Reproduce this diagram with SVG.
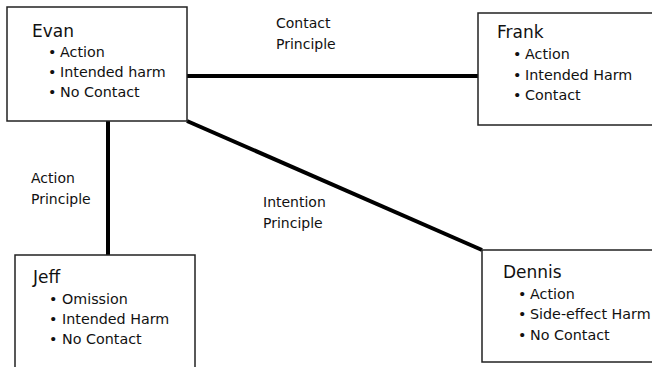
<svg xmlns="http://www.w3.org/2000/svg" width="652" height="367" viewBox="0 0 652 367">
<style>
.box{fill:#fff;stroke:#222;stroke-width:1.5}
.t{font-family:"DejaVu Sans","Liberation Sans",sans-serif;fill:#111}
.title{font-size:17px}
.item{font-size:14.3px}
.lbl{font-family:"DejaVu Sans","Liberation Sans",sans-serif;font-size:14px;fill:#111}
.edge{stroke:#000;stroke-width:4;fill:none}
</style>
<rect width="652" height="367" fill="#fff"/>
<g id="connectors">
<line class="edge" x1="187" y1="76" x2="478" y2="76"/>
<line class="edge" x1="108" y1="121" x2="108" y2="255"/>
<line class="edge" x1="187" y1="121" x2="482" y2="250"/>
<text class="lbl" x="276" y="28">Contact</text>
<text class="lbl" x="276" y="49">Principle</text>
<text class="lbl" x="31" y="183">Action</text>
<text class="lbl" x="31" y="204">Principle</text>
<text class="lbl" x="263" y="207">Intention</text>
<text class="lbl" x="263" y="228">Principle</text>
</g>
<g id="evan">
<rect class="box" x="7" y="7" width="180" height="114"/>
<text class="t title" x="32" y="37">Evan</text>
<text class="t item" x="48" y="57">•</text>
<text class="t item" x="60" y="57">Action</text>
<text class="t item" x="48" y="77">•</text>
<text class="t item" x="60" y="77">Intended harm</text>
<text class="t item" x="48" y="97">•</text>
<text class="t item" x="60" y="97">No Contact</text>
</g>
<g id="frank">
<rect class="box" x="478" y="13" width="190" height="112"/>
<text class="t title" x="497" y="38">Frank</text>
<text class="t item" x="513" y="59">•</text>
<text class="t item" x="525" y="59">Action</text>
<text class="t item" x="513" y="80">•</text>
<text class="t item" x="525" y="80">Intended Harm</text>
<text class="t item" x="513" y="100">•</text>
<text class="t item" x="525" y="100">Contact</text>
</g>
<g id="jeff">
<rect class="box" x="15" y="255" width="180" height="130"/>
<text class="t title" x="33" y="283">Jeff</text>
<text class="t item" x="49" y="304">•</text>
<text class="t item" x="62" y="304">Omission</text>
<text class="t item" x="49" y="324">•</text>
<text class="t item" x="62" y="324">Intended Harm</text>
<text class="t item" x="49" y="344">•</text>
<text class="t item" x="62" y="344">No Contact</text>
</g>
<g id="dennis">
<rect class="box" x="482" y="250" width="190" height="112"/>
<text class="t title" x="503" y="278">Dennis</text>
<text class="t item" x="518" y="299">•</text>
<text class="t item" x="530" y="299">Action</text>
<text class="t item" x="518" y="319">•</text>
<text class="t item" x="530" y="319">Side-effect Harm</text>
<text class="t item" x="518" y="340">•</text>
<text class="t item" x="530" y="340">No Contact</text>
</g>
</svg>
